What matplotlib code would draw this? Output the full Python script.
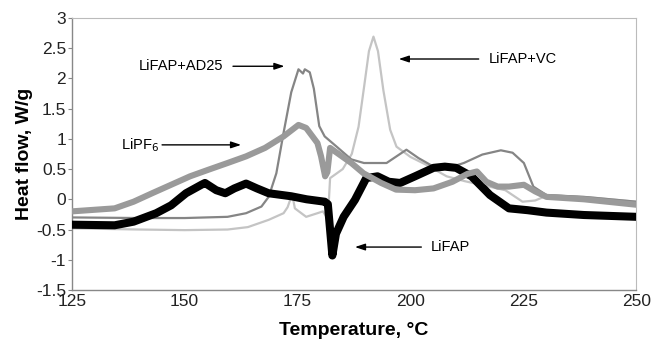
import matplotlib
matplotlib.use("Agg")
import matplotlib.pyplot as plt

plt.rcParams['font.family'] = ['Liberation Sans', 'DejaVu Sans']

# LiFAP (black, thick)
lifap_t = [125, 134.5, 138.7, 143.7, 147, 150.3, 153.7, 154.5, 157, 159, 161, 163.6, 166, 168.6,
           173.6, 177, 181, 181.7, 182.7, 183.5, 185.2, 187.7, 190.2, 192.7, 195.2, 197.7, 201,
           205.1, 207.6, 210.1, 213.5, 217.6, 221.8, 225.9, 230.1, 238.4, 250]
lifap_y = [-0.42, -0.43, -0.37, -0.23, -0.1, 0.1, 0.24, 0.27, 0.15, 0.1, 0.18, 0.26, 0.18, 0.1,
           0.05, 0.0, -0.04, -0.08, -0.93, -0.57, -0.29, -0.01, 0.35, 0.38, 0.29, 0.27, 0.38,
           0.52, 0.54, 0.52, 0.38, 0.07, -0.15, -0.18, -0.22, -0.26, -0.29]

# LiPF6 (medium grey, thick)
lipf6_t = [125, 134.5, 138.7, 142.8, 147, 151.2, 155.3, 159.5, 163.6, 167.8, 171.9, 175.2, 176.9,
           179.4, 180.2, 181.1, 181.6, 182.2, 183.5, 186.9, 189.6, 193.5, 196.8, 201, 205.1,
           209.3, 212.6, 214.7, 216.8, 219.3, 221.8, 225.1, 227.6, 230.1, 238.4, 250]
lipf6_y = [-0.2, -0.15, -0.04, 0.1, 0.24, 0.38, 0.49, 0.6, 0.71, 0.85, 1.04, 1.23, 1.18,
           0.93, 0.71, 0.38, 0.45, 0.85, 0.78, 0.6, 0.43, 0.27, 0.16, 0.15, 0.18,
           0.29, 0.42, 0.46, 0.29, 0.21, 0.21, 0.24, 0.13, 0.04, 0.0, -0.09]

# LiFAP+AD25 (dark grey, thin)
ad25_t = [125, 140, 150, 159.5, 163.6, 167, 168.6, 170.3, 171.9, 173.6, 175.2, 176.2, 176.6,
          177.7, 178.6, 179.8, 181, 183.5, 186.9, 189.7, 194.7, 199.1, 201.8, 205.1, 208.4,
          211.8, 215.9, 220, 222.6, 225.1, 227.2, 230.1, 238.4, 250]
ad25_y = [-0.3, -0.31, -0.31, -0.29, -0.23, -0.12, 0.04, 0.43, 1.1, 1.77, 2.15, 2.08, 2.15,
          2.1, 1.83, 1.21, 1.04, 0.88, 0.66, 0.6, 0.6, 0.82, 0.68, 0.54, 0.52,
          0.6, 0.74, 0.81, 0.77, 0.6, 0.21, 0.07, 0.04, -0.04]

# LiFAP+VC (light grey, thin)
vc_t = [125, 140, 150, 159.5, 164, 168.6, 171.9, 172.8, 173.5, 173.9, 174.4, 176.9, 179.4,
        180.6, 181.4, 181.8, 182.2, 185, 187, 188.5, 189.8, 190.8, 191.8, 192.8, 194, 195.5,
        196.9, 200, 203.5, 208, 212, 218, 221, 224.8, 227.6, 230.5, 240, 250]
vc_y = [-0.48, -0.5, -0.51, -0.5, -0.46, -0.34, -0.23, -0.13, 0.02, 0.05, -0.15, -0.29, -0.23,
        -0.2, -0.29, -0.2, 0.35, 0.5, 0.75, 1.2, 1.9, 2.45, 2.69, 2.45, 1.8, 1.15,
        0.87, 0.7, 0.57, 0.38, 0.3, 0.2, 0.15, -0.04, -0.02, 0.07, 0.03, -0.04]

x_ticks = [125, 150, 175, 200, 225, 250]
y_ticks = [-1.5, -1, -0.5, 0, 0.5, 1, 1.5, 2, 2.5, 3]
y_ticklabels = ['-1.5', '-1', '-0.5', '0', '0.5', '1', '1.5', '2', '2.5', '3']

fig = plt.figure(figsize=(6.52, 3.44), dpi=100)
ax = fig.add_axes([0.110, 0.157, 0.866, 0.791])

ax.plot(vc_t, vc_y, color='#c4c4c4', lw=1.6, zorder=2)
ax.plot(ad25_t, ad25_y, color='#858585', lw=1.6, zorder=3)
ax.plot(lifap_t, lifap_y, color='#000000', lw=5.8, zorder=4, solid_joinstyle='round')
ax.plot(lipf6_t, lipf6_y, color='#9a9a9a', lw=4.4, zorder=5, solid_joinstyle='round')

ax.set_xlim(125, 250)
ax.set_ylim(-1.5, 3)
ax.set_xticks(x_ticks)
ax.set_xticklabels([str(t) for t in x_ticks])
ax.set_yticks(y_ticks)
ax.set_yticklabels(y_ticklabels)
ax.tick_params(axis='both', labelsize=12.5, colors='#222222', length=3, color='#888888', pad=1)
ax.tick_params(axis='x', length=0, pad=3)

for side in ['top', 'right']:
    ax.spines[side].set_color('#bbbbbb')
    ax.spines[side].set_linewidth(0.8)
for side in ['left', 'bottom']:
    ax.spines[side].set_color('#888888')
    ax.spines[side].set_linewidth(1.0)

ax.set_xlabel('Temperature, °C', fontsize=14, fontweight='bold', labelpad=9)
ax.set_ylabel('Heat flow, W/g', fontsize=14, fontweight='bold', labelpad=2)

arrow = dict(arrowstyle='-|>,head_length=0.6,head_width=0.2', color='black', lw=1.0,
             shrinkA=0, shrinkB=0)
ax.annotate('', xy=(172.1, 2.2), xytext=(160.7, 2.2), arrowprops=arrow)
ax.text(149.3, 2.2, 'LiFAP+AD25', fontsize=10.5, ha='center', va='center')
ax.annotate('', xy=(162.5, 0.9), xytext=(145.0, 0.9), arrowprops=arrow)
ax.text(140.1, 0.9, 'LiPF$_6$', fontsize=10.5, ha='center', va='center')
ax.annotate('', xy=(197.4, 2.32), xytext=(215.1, 2.32), arrowprops=arrow)
ax.text(224.8, 2.32, 'LiFAP+VC', fontsize=10.5, ha='center', va='center')
ax.annotate('', xy=(187.7, -0.79), xytext=(202.4, -0.79), arrowprops=arrow)
ax.text(208.8, -0.79, 'LiFAP', fontsize=10.5, ha='center', va='center')

fig.savefig('out.png', dpi=100)
